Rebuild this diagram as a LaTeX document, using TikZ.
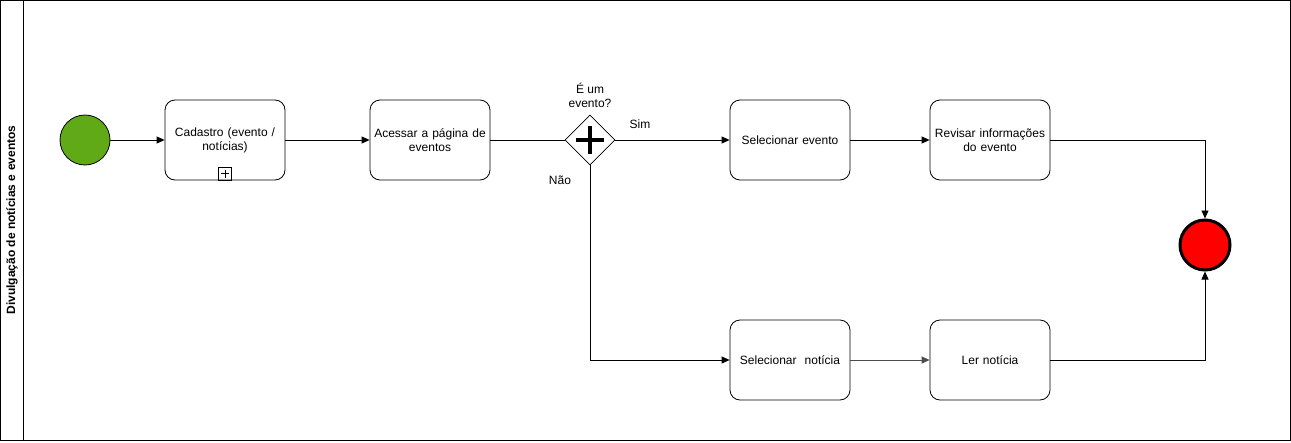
\documentclass[tikz,border=0pt]{standalone}
\usepackage{fontspec}
\setmainfont{Liberation Sans}
\usetikzlibrary{shapes.geometric,arrows.meta,calc}
\definecolor{startgreen}{HTML}{60A917}
\definecolor{endred}{HTML}{FF0000}
\begin{document}
\begin{tikzpicture}[x=1pt,y=-1pt,
  font=\fontsize{12}{14}\selectfont,
  task/.style={draw,rounded corners=10pt,minimum width=120pt,minimum height=80pt,align=center,text width=114pt,inner sep=0pt,line width=0.8pt},
  flow/.style={draw,line width=0.8pt,-{Triangle[length=8pt,width=7pt]}},
  plain/.style={draw,line width=0.8pt},
  lbl/.style={font=\fontsize{12}{14}\selectfont,align=center,inner sep=0pt}]
\useasboundingbox (0,0) rectangle (1291,442);
\draw[line width=0.8pt] (0.5,0.5) rectangle (1290.5,440.5);
\draw[line width=0.8pt] (23,0.5) -- (23,440.5);
\node[rotate=90,font=\bfseries\fontsize{12}{14}\selectfont,inner sep=0pt] (lane) at (12,220) {Divulgação de notícias e eventos};

\node[circle,draw,fill=startgreen,minimum size=50pt,inner sep=0pt,line width=0.8pt] (start) at (85,140) {};
\node[task] (t1) at (225,140) {Cadastro (evento /\\notícias)};
\node[draw,minimum size=13pt,inner sep=0pt,line width=0.7pt] (plus) at (225,173.5) {};
\draw[line width=0.7pt] ($(plus)+(-4,0)$) -- ($(plus)+(4,0)$);
\draw[line width=0.7pt] ($(plus)+(0,-4)$) -- ($(plus)+(0,4)$);
\node[task] (t2) at (430,140) {Acessar a página de\\eventos};
\node[diamond,draw,fill=white,minimum width=50pt,minimum height=50pt,inner sep=0pt,aspect=1,line width=0.8pt] (g) at (590,140) {};
\draw[line width=4pt] (576,140) -- (604,140);
\draw[line width=4pt] (590,126) -- (590,154);
\node[task] (t3) at (790,140) {Selecionar evento};
\node[task] (t4) at (990,140) {Revisar informações\\do evento};
\node[task] (t5) at (790,360) {Selecionar\ \ notícia};
\node[task] (t6) at (990,360) {Ler notícia};
\node[circle,draw,fill=endred,minimum size=50pt,inner sep=0pt,line width=3pt] (end) at (1205,245) {};

\node[lbl] (q) at (590,95) {É um\\evento?};
\node[lbl] (sim) at (640,124) {Sim};
\node[lbl] (nao) at (560,180) {Não};

\draw[flow] (start) -- (t1);
\draw[flow] (t1) -- (t2);
\draw[plain] (t2) -- (g.west);
\draw[flow] (g.east) -- (t3);
\draw[flow] (g.south) |- (t5);
\draw[flow] (t3) -- (t4);
\draw[flow,draw=black!70] (t5) -- (t6);
\draw[flow] (t4.east) -| (end.north);
\draw[flow] (t6.east) -| (end.south);
\end{tikzpicture}
\end{document}
